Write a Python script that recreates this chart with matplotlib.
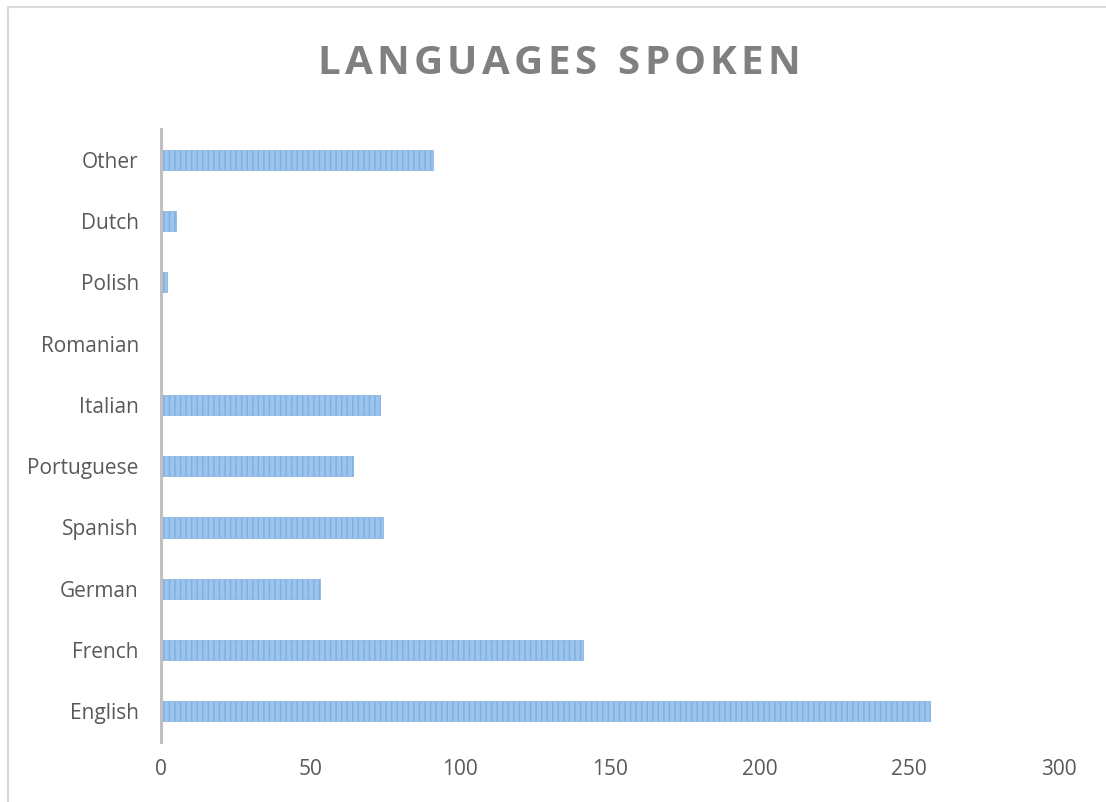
import matplotlib
matplotlib.use("Agg")
import matplotlib.pyplot as plt
from matplotlib.patches import Rectangle

categories = ["English", "French", "German", "Spanish", "Portuguese",
              "Italian", "Romanian", "Polish", "Dutch", "Other"]
values = [257, 141, 53, 74, 64, 73, 0, 2, 5, 91]
x_ticks = [0, 50, 100, 150, 200, 250, 300]
title = "LANGUAGES SPOKEN"

W, H = 1106, 802
fig = plt.figure(figsize=(W / 100, H / 100), dpi=100)
fig.patch.set_facecolor("white")

# outer chart border (left/top visible)
fig.add_artist(Rectangle((8 / W, -0.05), 1.2, 1 - 7 / H + 0.05,
                         transform=fig.transFigure, fill=False,
                         edgecolor="#D9D9D9", linewidth=1.5))

ax = fig.add_axes([161 / W, 1 - 742 / H, (1059 - 161) / W, (742 - 129) / H])
plt.rcParams['hatch.color'] = '#5F9BD6'
plt.rcParams['hatch.linewidth'] = 1.0
ypos = list(range(len(categories)))
ax.barh(ypos, values, height=0.33, color="#9DC4EC", edgecolor="#7FAEDF",
        linewidth=0.5, hatch="|||")
ax.set_xlim(0, 300)
ax.set_ylim(-0.5, len(categories) - 0.5)
ax.set_yticks(ypos)
ax.set_yticklabels(categories, fontsize=15, color="#595959", family="Open Sans")
ax.set_xticks(x_ticks)
ax.set_xticklabels([str(t) for t in x_ticks], fontsize=15, color="#595959",
                   family="Open Sans")
ax.tick_params(axis="y", length=0, pad=16)
ax.tick_params(axis="x", length=0, pad=12)
for s in ["top", "right", "bottom"]:
    ax.spines[s].set_visible(False)
ax.spines["left"].set_color("#BFBFBF")
ax.spines["left"].set_linewidth(2.2)
ax.set_facecolor("none")

# letter-spaced title
fig.canvas.draw()
renderer = fig.canvas.get_renderer()
fs = 29
spacing = 4.2  # px between letters
widths = []
for ch in title:
    t = fig.text(0, 0, ch if ch != " " else "n", fontsize=fs, family="Open Sans",
                 fontweight="bold")
    bb = t.get_window_extent(renderer)
    widths.append(bb.width * (0.5 if ch == " " else 1.0))
    t.remove()
total = sum(widths) + spacing * (len(title) - 1)
x = 559 - total / 2
for ch, w in zip(title, widths):
    if ch != " ":
        fig.text(x / W, 1 - 64 / H, ch, fontsize=fs, family="Open Sans",
                 fontweight="bold", color="#808080", ha="left", va="center")
    x += w + spacing

fig.savefig("out.png", dpi=100, facecolor="white")
